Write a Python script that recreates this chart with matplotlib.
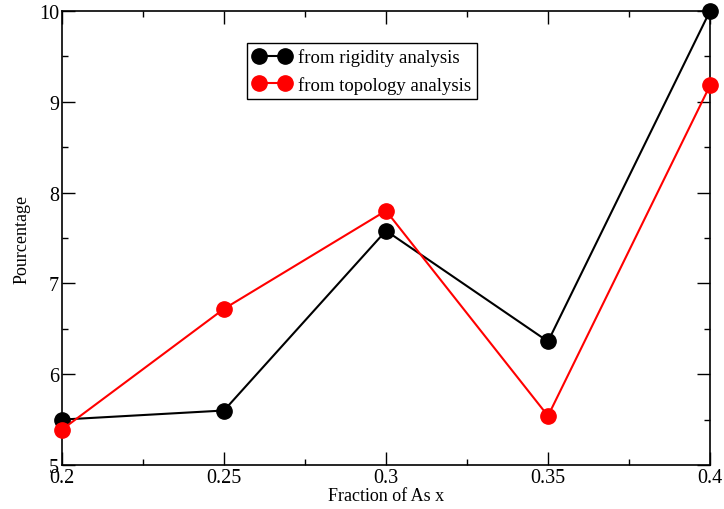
import matplotlib
matplotlib.use('Agg')
import matplotlib.pyplot as plt
from matplotlib.ticker import MultipleLocator, FuncFormatter

plt.rcParams['font.family'] = ['Liberation Serif', 'DejaVu Serif']

x = [0.2, 0.25, 0.3, 0.35, 0.4]
rigidity = [5.5, 5.6, 7.58, 6.36, 10.0]
topology = [5.39, 6.72, 7.8, 5.54, 9.18]

fig = plt.figure(figsize=(7.24, 5.1), dpi=100)
ax = fig.add_axes([0.0856, 0.0863, 0.8951, 0.8902])

ax.plot(x, rigidity, color='black', marker='o', markersize=11, lw=1.5,
        label='from rigidity analysis', clip_on=False, zorder=3)
ax.plot(x, topology, color='red', marker='o', markersize=11, lw=1.5,
        label='from topology analysis', clip_on=False, zorder=4)

ax.set_xlim(0.2, 0.4)
ax.set_ylim(5, 10)
ax.xaxis.set_major_locator(MultipleLocator(0.05))
ax.xaxis.set_minor_locator(MultipleLocator(0.025))
ax.yaxis.set_major_locator(MultipleLocator(1))
ax.yaxis.set_minor_locator(MultipleLocator(0.5))
ax.xaxis.set_major_formatter(FuncFormatter(lambda v, p: '%g' % round(v, 3)))
ax.tick_params(which='both', direction='in', top=True, right=True, labelsize=14.5, width=1)
ax.tick_params(which='major', length=9.5, pad=2)
ax.tick_params(which='minor', length=4.5)
for s in ax.spines.values():
    s.set_linewidth(1.2)

ax.set_xlabel('Fraction of As x', fontsize=13, labelpad=0)
ax.set_ylabel('Pourcentage', fontsize=13, labelpad=6)

leg = ax.legend(loc='upper left', bbox_to_anchor=(0.286, 0.93), numpoints=2,
                fontsize=13.5, fancybox=False, framealpha=1, edgecolor='black',
                handlelength=2.0, borderpad=0.3, labelspacing=0.5, handletextpad=0.4,
                borderaxespad=0)
leg.get_frame().set_linewidth(1)

fig.savefig('out.png', dpi=100)
